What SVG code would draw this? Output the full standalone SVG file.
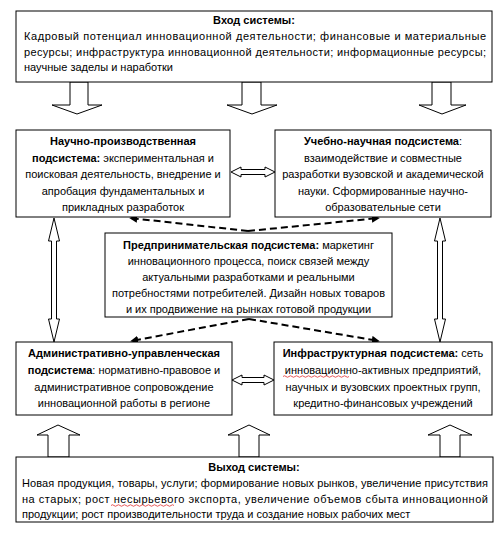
<svg xmlns="http://www.w3.org/2000/svg" width="501" height="534" viewBox="0 0 501 534">
<defs>
<style>
text{font-family:"Liberation Sans",Arial,sans-serif;font-size:11px;fill:#000}
.b{font-weight:bold}
.box{fill:#fff;stroke:#000;stroke-width:1}
.blk{fill:#fff;stroke:#000;stroke-width:1}
.dash{fill:none;stroke:#000;stroke-width:2;stroke-dasharray:7 4}
.sq{fill:none;stroke:#e03030;stroke-width:0.8}
</style>
<marker id="ah" viewBox="0 0 10 10" refX="9" refY="5" markerWidth="4" markerHeight="4" orient="auto" markerUnits="strokeWidth">
<path d="M0,0 L10,5 L0,10 z" fill="#000"/>
</marker>
</defs>
<rect width="501" height="534" fill="#fff"/>

<g id="connectors">
<polygon class="blk" points="70,82 70,105 52,105 77,114 102,105 88,105 88,82"/>
<polygon class="blk" points="242,82 242,105 227,105 252,114 277,105 261,105 261,82"/>
<polygon class="blk" points="432,82 432,105 419,105 442,114 466,105 451,105 451,82"/>
<polygon class="blk" points="48,457 48,435 37,435 58,425 80,435 69,435 69,457"/>
<polygon class="blk" points="239,457 239,435 228,435 249,425 270,435 259,435 259,457"/>
<polygon class="blk" points="440,457 440,435 428,435 450,425 472,435 460,435 460,457"/>
<polygon class="blk" points="54,218 59.5,241 56.5,241 56.5,319 59.5,319 54,342 48.5,319 51.5,319 51.5,241 48.5,241"/>
<polygon class="blk" points="440,218 445.5,241 442.5,241 442.5,319 445.5,319 440,342 434.5,319 437.5,319 437.5,241 434.5,241"/>
<polygon class="blk" points="231,172 241,167 241,169.5 265,169.5 265,167 275,172 265,177 265,174.5 241,174.5 241,177"/>
<polygon class="blk" points="232,380 242,375 242,377.5 264,377.5 264,375 274,380 264,385 264,382.5 242,382.5 242,385"/>
<path class="dash" d="M248,231 L130,218" marker-end="url(#ah)"/>
<path class="dash" d="M248,231 L379,218" marker-end="url(#ah)"/>
<path class="dash" d="M249,319 L131,341" marker-end="url(#ah)"/>
<path class="dash" d="M249,319 L379,341" marker-end="url(#ah)"/>
</g>

<g id="input">
<rect class="box" x="16" y="11" width="476" height="71"/>
<text class="b" x="254" y="24" text-anchor="middle">Вход системы:</text>
<text x="24" y="40" textLength="462" lengthAdjust="spacing">Кадровый потенциал инновационной деятельности; финансовые и материальные</text>
<text x="24" y="56" textLength="462" lengthAdjust="spacing">ресурсы; инфраструктура инновационной деятельности; информационные ресурсы;</text>
<text x="24" y="71">научные заделы и наработки</text>
</g>

<g id="science-production">
<rect class="box" x="16" y="130" width="214" height="87"/>
<text x="123" y="145" text-anchor="middle" class="b">Научно-производственная</text>
<text x="123" y="161.5" text-anchor="middle"><tspan class="b">подсистема:</tspan> экспериментальная и</text>
<text x="123" y="178" text-anchor="middle">поисковая деятельность, внедрение и</text>
<text x="123" y="194.5" text-anchor="middle">апробация фундаментальных и</text>
<text x="123" y="211" text-anchor="middle">прикладных разработок</text>
</g>

<g id="education-science">
<rect class="box" x="275" y="130" width="216" height="87"/>
<text x="383" y="145" text-anchor="middle"><tspan class="b">Учебно-научная подсистема</tspan>:</text>
<text x="383" y="161.5" text-anchor="middle">взаимодействие и совместные</text>
<text x="383" y="178" text-anchor="middle">разработки вузовской и академической</text>
<text x="383" y="194.5" text-anchor="middle">науки. Сформированные научно-</text>
<text x="383" y="211" text-anchor="middle">образовательные сети</text>
</g>

<g id="entrepreneurial">
<rect class="box" x="105" y="233" width="287" height="84"/>
<text x="248.5" y="249" text-anchor="middle"><tspan class="b">Предпринимательская подсистема:</tspan> маркетинг</text>
<text x="248.5" y="265" text-anchor="middle">инновационного процесса, поиск связей между</text>
<text x="248.5" y="281" text-anchor="middle">актуальными разработками и реальными</text>
<text x="248.5" y="297" text-anchor="middle">потребностями потребителей. Дизайн новых товаров</text>
<text x="248.5" y="313" text-anchor="middle">и их продвижение на рынках готовой продукции</text>
</g>

<g id="administrative">
<rect class="box" x="16" y="342" width="216" height="73"/>
<text x="124" y="357" text-anchor="middle" class="b">Административно-управленческая</text>
<text x="124" y="374" text-anchor="middle"><tspan class="b">подсистема</tspan>: нормативно-правовое и</text>
<text x="124" y="391" text-anchor="middle">административное сопровождение</text>
<text x="124" y="407" text-anchor="middle">инновационной работы в регионе</text>
</g>

<g id="infrastructure">
<rect class="box" x="274" y="342" width="218" height="73"/>
<text x="383" y="357" text-anchor="middle"><tspan class="b">Инфраструктурная подсистема:</tspan> сеть</text>
<text x="383" y="374" text-anchor="middle">инновационно-активных предприятий,</text>
<text x="383" y="391" text-anchor="middle">научных и вузовских проектных групп,</text>
<text x="383" y="407" text-anchor="middle">кредитно-финансовых учреждений</text>
<path class="sq" d="M283,376.5 q1.5,-1.5 3,0 t3,0 t3,0 t3,0 t3,0 t3,0 t3,0 t3,0 t3,0 t3,0 t3,0 t3,0 t3,0 t3,0 t3,0 t3,0 t3,0 t3,0 t3,0 t3,0 t3,0 t3,0"/>
</g>

<g id="output">
<rect class="box" x="16" y="457" width="477" height="65"/>
<text class="b" x="254" y="471" text-anchor="middle">Выход системы:</text>
<text x="22" y="487" textLength="466" lengthAdjust="spacing">Новая продукция, товары, услуги; формирование новых рынков, увеличение присутствия</text>
<text x="22" y="503" textLength="466" lengthAdjust="spacing">на старых; рост несырьевого экспорта, увеличение объемов сбыта инновационной</text>
<text x="22" y="518">продукции; рост производительности труда и создание новых рабочих мест</text>
<path class="sq" d="M111,505.5 q1.5,-1.5 3,0 t3,0 t3,0 t3,0 t3,0 t3,0 t3,0 t3,0 t3,0 t3,0 t3,0 t3,0 t3,0 t3,0 t3,0 t3,0 t3,0 t3,0 t3,0 t3,0 t3,0"/>
</g>
</svg>
